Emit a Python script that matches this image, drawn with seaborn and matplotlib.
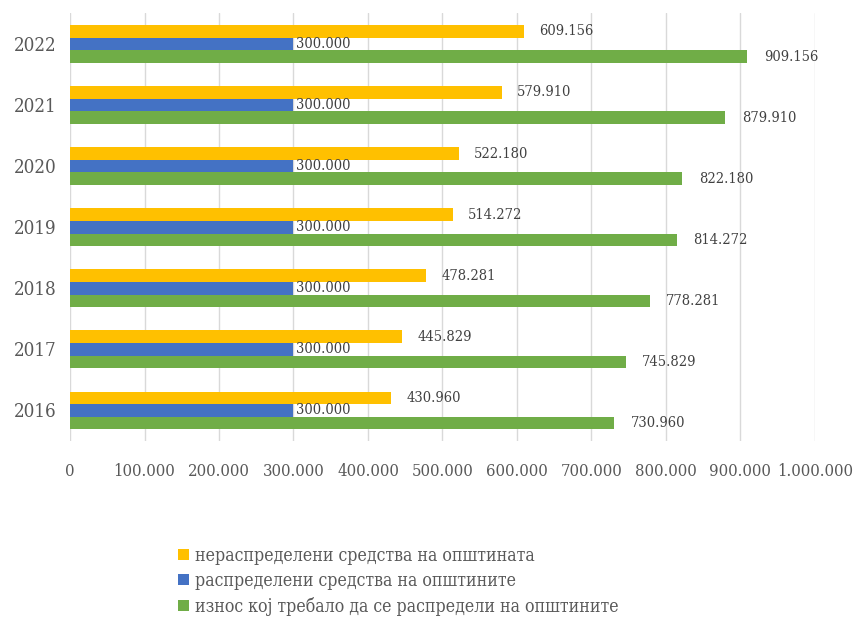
import matplotlib
matplotlib.use("Agg")
import matplotlib.pyplot as plt
import seaborn as sns
import pandas as pd
from matplotlib.patches import Patch

years = ["2022", "2021", "2020", "2019", "2018", "2017", "2016"]
series_names = [
    "нераспределени средства на општината",
    "распределени средства на општините",
    "износ кој требало да се распредели на општините",
]
undistributed = [609156, 579910, 522180, 514272, 478281, 445829, 430960]
distributed = [300000, 300000, 300000, 300000, 300000, 300000, 300000]
total_due = [909156, 879910, 822180, 814272, 778281, 745829, 730960]
colors = ["#FFC000", "#4472C4", "#70AD47"]
xticks = [0, 100000, 200000, 300000, 400000, 500000, 600000, 700000, 800000, 900000, 1000000]

sns.set_theme(style="white")
FONT = ["DejaVu Serif", "DejaVu Sans"]
plt.rcParams["font.family"] = FONT
plt.rcParams["font.stretch"] = "condensed"
TXT = "#595959"

rows = []
for name, vals in zip(series_names, [undistributed, distributed, total_due]):
    for y, v in zip(years, vals):
        rows.append({"year": y, "series": name, "value": v})
df = pd.DataFrame(rows)

fig = plt.figure(figsize=(8.65, 6.19), dpi=100)
ax = fig.add_axes([0.081, 0.2876, 0.861, 0.6906])

sns.barplot(data=df, x="value", y="year", hue="series", order=years,
            hue_order=series_names, palette=colors, orient="h",
            width=0.62, ax=ax, legend=False, saturation=1, linewidth=0)

def fmt(v):
    return f"{int(v):,}".replace(",", ".")

offsets = [11, 2, 12]
for cont, off in zip(ax.containers, offsets):
    labels = [fmt(p.get_width()) for p in cont]
    ax.bar_label(cont, labels=labels, padding=off, fontsize=10.5, color="#404040",
                 fontstretch="condensed")

ax.set_xlim(0, 1000000)
ax.set_xticks(xticks)
ax.set_xticklabels([fmt(t) for t in xticks], fontsize=12, color=TXT, fontstretch="condensed")
ax.tick_params(axis="x", pad=16, length=0)
ax.tick_params(axis="y", pad=10, length=0)
for lab in ax.get_yticklabels():
    lab.set_fontsize(13.5)
    lab.set_color(TXT)
    lab.set_fontstretch("condensed")
ax.set_xlabel("")
ax.set_ylabel("")
ax.grid(axis="x", color="#D9D9D9", linewidth=1)
ax.set_axisbelow(True)
for s in ax.spines.values():
    s.set_visible(False)

handles = [Patch(facecolor=c, edgecolor="none") for c in colors]
leg = fig.legend(handles, series_names, loc="upper left", bbox_to_anchor=(0.198, 0.128),
                 frameon=False, fontsize=12.7, handlelength=0.62, handleheight=0.62,
                 handletextpad=0.3, labelspacing=0.4, borderaxespad=0)
for t in leg.get_texts():
    t.set_color(TXT)
    t.set_fontstretch("condensed")

fig.savefig("out.png", dpi=100)
